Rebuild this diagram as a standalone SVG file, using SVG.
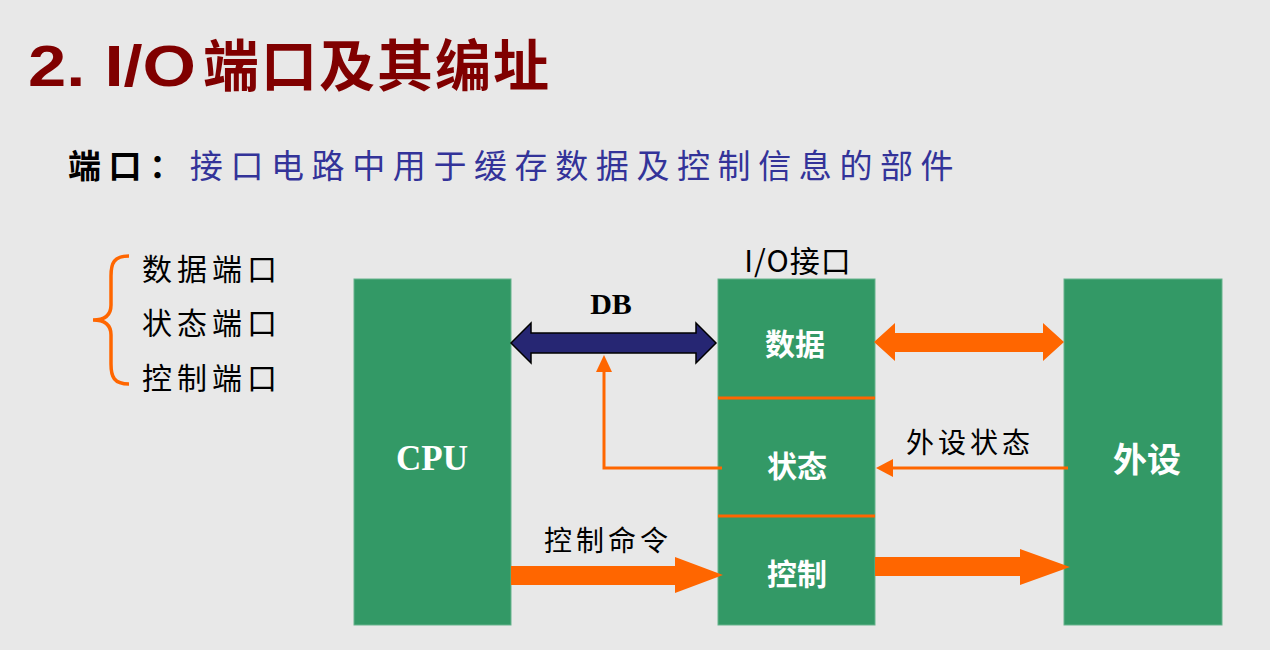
<svg xmlns="http://www.w3.org/2000/svg" width="1270" height="650" viewBox="0 0 1270 650">
<style>
.box{fill:#339966;stroke:#66b38c;stroke-width:1}
.wl{fill:#ffffff;font-family:"Noto Sans CJK SC",sans-serif;font-weight:bold;text-anchor:middle}
.lbl{fill:#000000;font-family:"Noto Sans CJK SC",sans-serif;text-anchor:middle}
.or{fill:#ff6600}
.ol{stroke:#ff6600;fill:none}
</style>
<rect width="1270" height="650" fill="#e8e8e8"/>
<g id="title">
<text x="28" y="86" font-family="Liberation Sans, Noto Sans CJK SC, sans-serif" font-weight="bold" font-size="58" fill="#800000" textLength="168" lengthAdjust="spacingAndGlyphs">2. I/O</text>
<text x="203" y="86" font-family="Noto Sans CJK SC, sans-serif" font-weight="bold" font-size="56" fill="#800000" letter-spacing="2">端口及其编址</text>
</g>
<g id="subtitle">
<text x="68" y="178" font-family="Noto Sans CJK SC, sans-serif" font-size="33" letter-spacing="7.6"><tspan font-weight="bold" fill="#000000">端口：</tspan><tspan fill="#333399">接口电路中用于缓存数据及控制信息的部件</tspan></text>
</g>
<g id="port-list">
<path class="ol" stroke-width="3.5" d="M129,256 C114,256 111,263 111,276 L111,305 C111,315 105,320 93,320 C105,320 111,325 111,335 L111,364 C111,377 114,384 129,384"/>
<text x="142" y="280" font-family="Noto Sans CJK SC, sans-serif" font-size="30" letter-spacing="5" fill="#000">数据端口</text>
<text x="142" y="334" font-family="Noto Sans CJK SC, sans-serif" font-size="30" letter-spacing="5" fill="#000">状态端口</text>
<text x="142" y="389" font-family="Noto Sans CJK SC, sans-serif" font-size="30" letter-spacing="5" fill="#000">控制端口</text>
</g>
<g id="cpu">
<rect class="box" x="354" y="279" width="157" height="346"/>
<text x="432" y="470" font-family="Liberation Serif, serif" font-weight="bold" font-size="35" fill="#fff" text-anchor="middle">CPU</text>
</g>
<g id="io-interface">
<text x="798" y="272" class="lbl" font-size="30" letter-spacing="1">I/O接口</text>
<rect class="box" x="718" y="279" width="157" height="346"/>
<line x1="718" y1="398" x2="875" y2="398" stroke="#ff6600" stroke-width="3"/>
<line x1="718" y1="516" x2="875" y2="516" stroke="#ff6600" stroke-width="3"/>
<text x="795" y="355" class="wl" font-size="30">数据</text>
<text x="797" y="477" class="wl" font-size="30">状态</text>
<text x="797" y="585" class="wl" font-size="30">控制</text>
</g>
<g id="peripheral">
<rect class="box" x="1064" y="279" width="158" height="346"/>
<text x="1147" y="472" class="wl" font-size="34">外设</text>
</g>
<g id="connectors">
<polygon points="511,343 531,323 531,333 696,333 696,323 716,343 696,363 696,353 531,353 531,363" fill="#262673" stroke="#000" stroke-width="1.5"/>
<text x="611" y="314" font-family="Liberation Serif, serif" font-weight="bold" font-size="30" fill="#000" text-anchor="middle">DB</text>
<polygon class="or" points="874,342 895,323 895,333 1043,333 1043,323 1064,342 1043,361 1043,352 895,352 895,361"/>
<polyline class="ol" stroke-width="3" points="722,468 604,468 604,370"/>
<polygon class="or" points="604,355 596,372 612,372"/>
<line class="ol" stroke-width="3" x1="1068" y1="468" x2="892" y2="468"/>
<polygon class="or" points="876,468 893,459 893,477"/>
<text x="970" y="453" class="lbl" font-size="28" letter-spacing="4">外设状态</text>
<polygon class="or" points="511,566 675,566 675,557 723,575 675,593 675,585 511,585"/>
<text x="608" y="551" class="lbl" font-size="28" letter-spacing="4">控制命令</text>
<polygon class="or" points="875,557 1020,557 1020,549 1070,567 1020,585 1020,576 875,576"/>
</g>
</svg>
